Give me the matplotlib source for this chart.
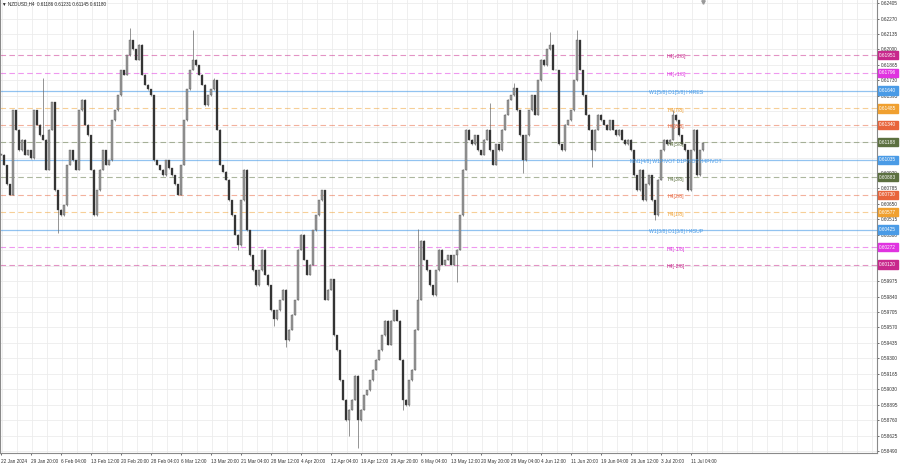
import matplotlib.pyplot as plt
import matplotlib.transforms as mtransforms

plt.rcParams['font.family'] = ['Liberation Sans', 'DejaVu Sans']

# NZDUSD H4 closes (one value every ~3 px)
closes = [
    0.6108, 0.6099, 0.6082, 0.6073,
    0.6147, 0.6130,
    0.6112, 0.6121, 0.6108, 0.6112, 0.6105,
    0.6147, 0.6134, 0.6125, 0.6121, 0.6095, 0.6130, 0.6154,
    0.6077, 0.6060, 0.6055, 0.6064, 0.6099, 0.6112, 0.6103, 0.6095,
    0.6147, 0.6156, 0.6134, 0.6125, 0.6095, 0.6055, 0.6077, 0.6095, 0.6112, 0.6099, 0.6103,
    0.6138, 0.6147, 0.6160, 0.6182, 0.6178, 0.6195, 0.6208, 0.6200, 0.6191, 0.6204, 0.6178, 0.6169, 0.6165, 0.6160,
    0.6103, 0.6099, 0.6095, 0.6090, 0.6103, 0.6096, 0.6090, 0.6082, 0.6073,
    0.6099, 0.6138, 0.6165, 0.6182, 0.6191, 0.6186, 0.6178, 0.6169, 0.6151, 0.6160, 0.6165, 0.6173, 0.6130,
    0.6099, 0.6093, 0.6086, 0.6068, 0.6055, 0.6038, 0.6029, 0.6068, 0.6095, 0.6042,
    0.6020, 0.6007, 0.5994, 0.6007, 0.6025, 0.6003, 0.5994, 0.5972, 0.5964, 0.5972, 0.5981, 0.5990,
    0.5946, 0.5955, 0.5968, 0.5981, 0.6025, 0.6038, 0.6016, 0.6003, 0.6012, 0.6042, 0.6055, 0.6068, 0.6077,
    0.5981, 0.5990, 0.5999, 0.5950, 0.5937, 0.5911, 0.5894, 0.5876, 0.5885, 0.5894, 0.5915, 0.5876, 0.5885,
    0.5898, 0.5902, 0.5911, 0.5920, 0.5929, 0.5937, 0.5950, 0.5963, 0.5942, 0.5963, 0.5972, 0.5963,
    0.5929, 0.5894, 0.5889, 0.5911, 0.5920, 0.5955, 0.5981, 0.6033, 0.6016, 0.6007, 0.5994, 0.5985,
    0.6007, 0.6025, 0.6012, 0.6016, 0.6020, 0.6012, 0.6020, 0.6025, 0.6055, 0.6095, 0.6130, 0.6121,
    0.6117, 0.6125, 0.6112, 0.6108, 0.6121, 0.6130, 0.6112, 0.6099, 0.6117, 0.6112, 0.6130, 0.6143, 0.6156, 0.6160, 0.6166,
    0.6147, 0.6125, 0.6103, 0.6125, 0.6147, 0.6160, 0.6143, 0.6173, 0.6191, 0.6186, 0.6200, 0.6204, 0.6182, 0.6182,
    0.6117, 0.6112, 0.6134, 0.6138, 0.6147, 0.6173, 0.6208, 0.6182, 0.6160, 0.6143, 0.6130, 0.6112,
    0.6130, 0.6143, 0.6138, 0.6134, 0.6130, 0.6138, 0.6130, 0.6125, 0.6130, 0.6121, 0.6117, 0.6121, 0.6112,
    0.6090, 0.6077, 0.6095, 0.6068, 0.6082, 0.6090, 0.6068, 0.6055, 0.6086, 0.6112, 0.6121, 0.6117, 0.6121,
    0.6143, 0.6138, 0.6125, 0.6117, 0.6112, 0.6077, 0.6112, 0.6130, 0.6090, 0.6112, 0.6118,
]

# longer wicks that stick out of the bodies (bar index -> price)
spike_hi = {14: 0.6175, 43: 0.6219, 64: 0.6217, 71: 0.6175, 107: 0.6074, 139: 0.6043,
            163: 0.6153, 171: 0.6171, 183: 0.6215, 192: 0.6217, 224: 0.6147}
spike_lo = {19: 0.6040, 31: 0.6054, 79: 0.6025, 91: 0.5958, 95: 0.5940, 116: 0.5862,
            119: 0.5852, 134: 0.5885, 152: 0.5997, 174: 0.6092, 197: 0.6097, 218: 0.6051}

level_names = ['H4[+2/8]', 'H4[+1/8]', 'W1[5/8] D1[5/8] H4RES', 'H4[7/8]', 'H4[6/8]', 'H4[5/8]',
               'MN1[4/8] W1PIVOT D1PIVOT H4PIVOT', 'H4[3/8]', 'H4[2/8]', 'H4[1/8]',
               'W1[3/8] D1[3/8] H4SUP', 'H4[-1/8]', 'H4[-2/8]']
level_prices = [0.61951, 0.61796, 0.61640, 0.61485, 0.61340, 0.61188, 0.61035,
                0.60883, 0.60730, 0.60577, 0.60425, 0.60272, 0.60120]
level_colors = ['#c8288c', '#e033e0', '#4a9be6', '#f0a030', '#e8643c', '#5c7040', '#4a9be6',
                '#5c7040', '#e8643c', '#f0a030', '#4a9be6', '#e033e0', '#c8288c']
level_solid = [False, False, True, False, False, False, True, False, False, False, True, False, False]

price_ticks = [0.62405, 0.62270, 0.62135, 0.62000, 0.61865, 0.61730, 0.61595, 0.61460, 0.61325,
               0.61190, 0.61055, 0.60920, 0.60785, 0.60650, 0.60515, 0.60380, 0.60245, 0.60110,
               0.59975, 0.59840, 0.59705, 0.59570, 0.59435, 0.59300, 0.59165, 0.59030, 0.58895,
               0.58760, 0.58625, 0.58490]

time_labels = ['22 Jan 2024', '29 Jan 20:00', '6 Feb 04:00', '13 Feb 12:00', '20 Feb 20:00',
               '28 Feb 04:00', '6 Mar 12:00', '13 Mar 20:00', '21 Mar 04:00', '28 Mar 12:00',
               '4 Apr 20:00', '12 Apr 04:00', '19 Apr 12:00', '26 Apr 20:00', '6 May 04:00',
               '13 May 12:00', '20 May 20:00', '28 May 04:00', '4 Jun 12:00', '11 Jun 20:00',
               '19 Jun 04:00', '26 Jun 12:00', '3 Jul 20:00', '11 Jul 04:00']

title = '\u25bc NZDUSD,H4  0.61186 0.61231 0.61145 0.61180'

fig = plt.figure(figsize=(9, 4.68), dpi=100)
ax = fig.add_axes([0.0, 1 - 453 / 468, 877 / 900, 453 / 468])
ax.set_xlim(-0.33, 292.0)
ax.set_ylim(0.58473, 0.62432)

# grid
for i in range(0, 295, 5):
    ax.axvline(i + 0.3, color='#ececec', lw=0.6, zorder=0)
for p in price_ticks:
    ax.axhline(p, color='#ececec', lw=0.6, zorder=0)

# levels
for name, p, c, solid in zip(level_names, level_prices, level_colors, level_solid):
    if solid:
        ax.axhline(p, color=c, lw=0.9, alpha=0.6, zorder=1)
    else:
        ax.axhline(p, color=c, lw=0.8, alpha=0.5, ls=(0, (5, 3)), zorder=1)
    ax.text(225, p - 0.00017, name, color=c, fontsize=3.7, ha='center', va='center', zorder=4)

# candles
for i, c in enumerate(closes):
    o = closes[i - 1] if i > 0 else closes[0]
    hi = spike_hi.get(i, max(o, c) + 0.00004)
    lo = spike_lo.get(i, min(o, c) - 0.00004)
    col = '#9a9a9a' if c >= o else '#303030'
    ax.vlines(i, lo, hi, color='#6a6a6a', lw=0.5, zorder=2)
    ax.bar(i, max(abs(c - o), 0.00004), bottom=min(o, c), width=0.45, color=col,
           edgecolor='#4a4a4a', linewidth=0.25, zorder=3)

# axes look
ax.spines['top'].set_visible(False)
for s in ['left', 'right', 'bottom']:
    ax.spines[s].set_color('#8a8a8a')
    ax.spines[s].set_linewidth(0.8)

# scale labels that sit under a level price box are hidden, as on the terminal
tick_text = []
for p in price_ticks:
    hidden = any(abs(p - lp) < 0.0003 for lp in level_prices)
    tick_text.append('' if hidden else f'{p:.5f}')

ax.yaxis.tick_right()
ax.set_yticks(price_ticks)
ax.set_yticklabels(tick_text)
ax.tick_params(axis='y', labelsize=3.4, colors='#333333', length=1.5, width=0.5, pad=1.2)
ax.set_xticks(range(0, 240, 10))
ax.set_xticklabels(time_labels, ha='left')
ax.tick_params(axis='x', labelsize=3.4, colors='#333333', length=1.5, width=0.5, pad=2.5)

# price boxes on the scale
trans = mtransforms.blended_transform_factory(ax.transAxes, ax.transData)
for p, c in zip(level_prices, level_colors):
    ax.text(1.0025, p, f'{p:.5f}', transform=trans, color='white', fontsize=3.4,
            ha='left', va='center', zorder=10, clip_on=False,
            bbox=dict(boxstyle='square,pad=0.35', fc=c, ec=c))

# chart shift marker
ax.plot([234], [0.62415], marker='v', ms=2.5, color='#9a9a9a', clip_on=False, zorder=5)

fig.text(2 / 900, 1 - 4 / 468, title, fontsize=3.3, color='#222222', ha='left', va='center')

fig.savefig('out.png', dpi=100)
